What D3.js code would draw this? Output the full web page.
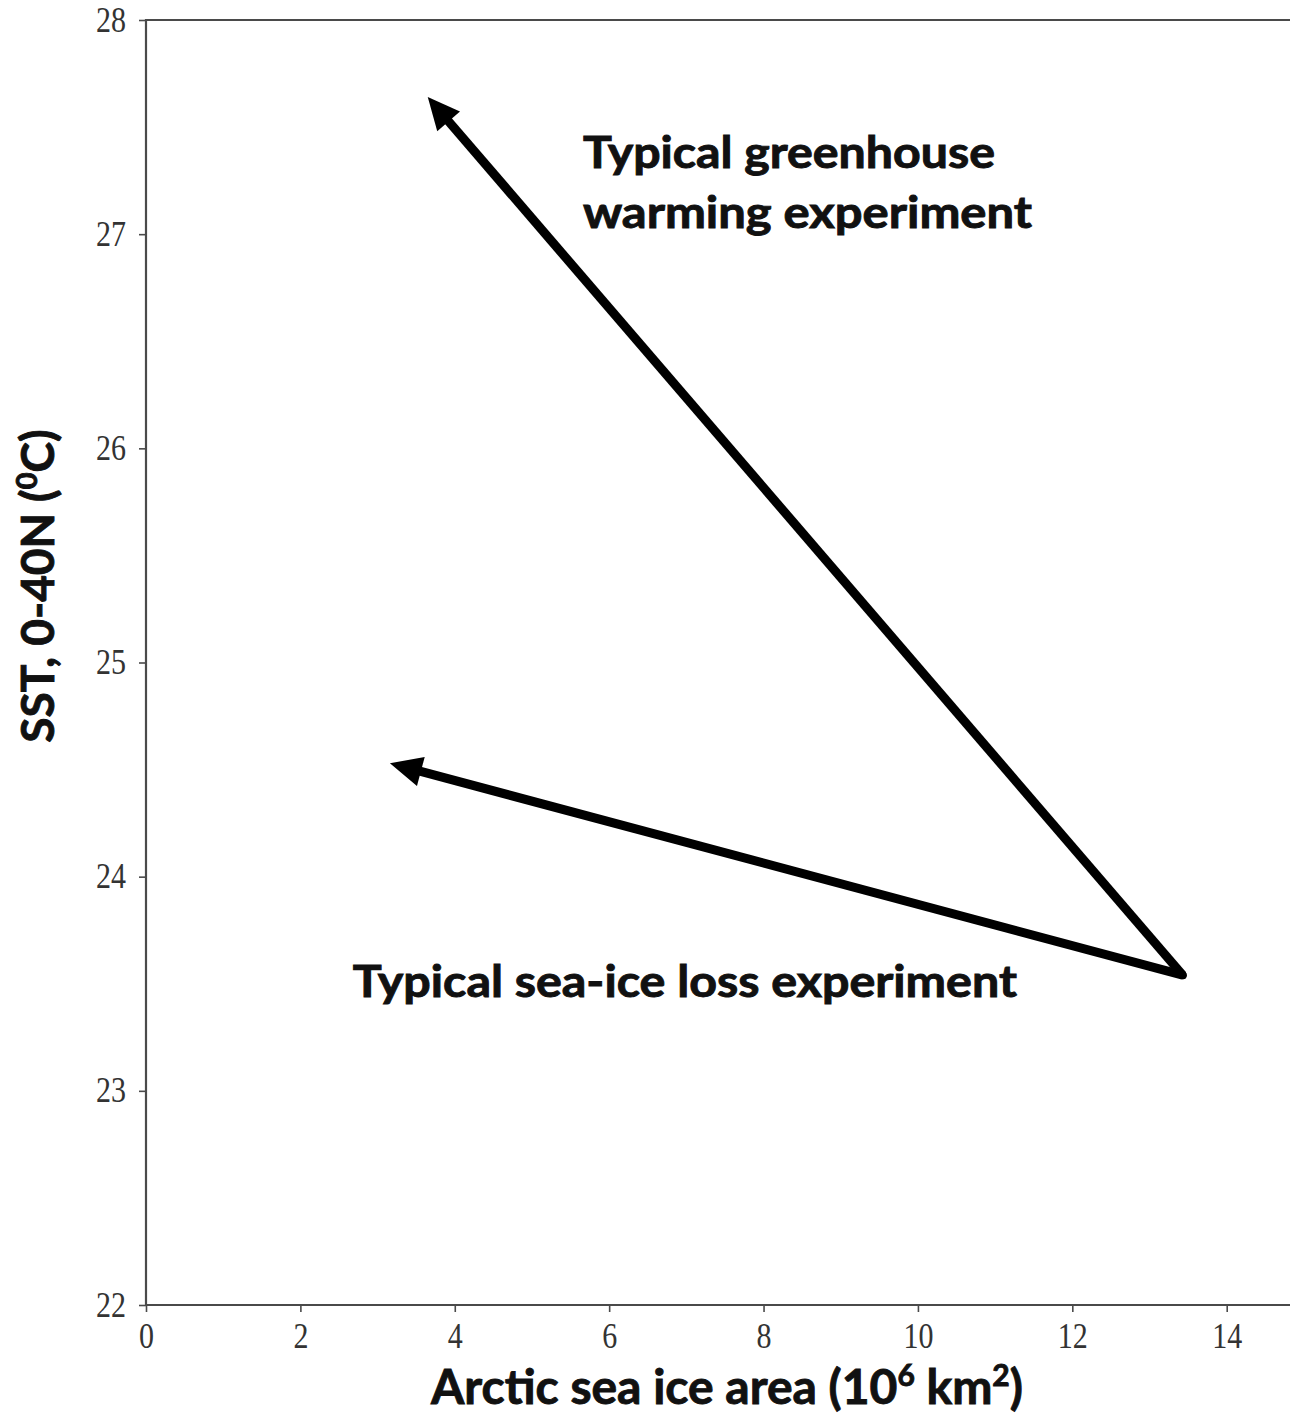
<!DOCTYPE html>
<html>
<head>
<meta charset="utf-8">
<script src="https://cdn.jsdelivr.net/npm/d3@7"></script>
<style>
  html, body { margin: 0; padding: 0; background: #fff; }
  svg { display: block; }
</style>
</head>
<body>
<svg id="chart" width="1290" height="1416"></svg>
<script>
// ---- data ----
const xTicks = [0, 2, 4, 6, 8, 10, 12, 14];
const yTicks = [22, 23, 24, 25, 26, 27, 28];
const xDomain = [0, 14.82];
const yDomain = [22, 28];
const arrowNames = ["greenhouse", "seaice"];
const arrowStartX = [13.43, 13.43];
const arrowStartY = [23.54, 23.54];
const arrowEndX = [3.65, 3.16];
const arrowEndY = [27.64, 24.53];
const labelLines = ["Typical greenhouse", "warming experiment", "Typical sea-ice loss experiment"];
const labelX = [5.66, 5.66, 2.68];
const labelY = [27.31, 27.03, 23.44];
const xTitle = "Arctic sea ice area (10";
const yTitle = "SST, 0-40N (";

const svg = d3.select("#chart");
const x = d3.scaleLinear().domain(xDomain).range([146, 1290]);
const y = d3.scaleLinear().domain(yDomain).range([1305, 20]);

const axisColor = "#4a4a4a";
const tickFont = "'Liberation Serif', 'DejaVu Serif', serif";
const sansBold = "Lato, 'Open Sans', 'Noto Sans', sans-serif";
const stretch = 1.22;

// axes
const gx = svg.append("g").attr("transform", `translate(0,${y(22)})`)
  .call(d3.axisBottom(x).tickValues(xTicks).tickSize(7).tickFormat(d3.format("d")));
const gy = svg.append("g").attr("transform", `translate(${x(0)},0)`)
  .call(d3.axisLeft(y).tickValues(yTicks).tickSize(7).tickPadding(13).tickFormat(d3.format("d")));
[gx, gy].forEach(g => {
  g.select(".domain").remove();
  g.selectAll(".tick line").attr("stroke", axisColor).attr("stroke-width", 1.6);
  g.selectAll(".tick text").attr("fill", "#333").style("font-family", tickFont).style("font-size", "30px")
    .attr("transform", `scale(1,${stretch})`);
});
gx.selectAll(".tick text").attr("dy", null).attr("y", 43 / stretch);
gy.selectAll(".tick text").attr("dy", null).attr("y", 11 / stretch);

// spines
svg.append("line").attr("x1", x(0)).attr("x2", 1290).attr("y1", y(28)).attr("y2", y(28))
  .attr("stroke", axisColor).attr("stroke-width", 2.2);
svg.append("line").attr("x1", x(0)).attr("x2", 1290).attr("y1", y(22)).attr("y2", y(22))
  .attr("stroke", axisColor).attr("stroke-width", 2.2);
svg.append("line").attr("x1", x(0)).attr("x2", x(0)).attr("y1", y(28) - 1).attr("y2", y(22) + 1)
  .attr("stroke", axisColor).attr("stroke-width", 2.2);

// arrows
arrowNames.forEach((n, i) => {
  const x1 = x(arrowStartX[i]), y1 = y(arrowStartY[i]);
  const x2 = x(arrowEndX[i]), y2 = y(arrowEndY[i]);
  const len = Math.hypot(x2 - x1, y2 - y1);
  const ux = (x2 - x1) / len, uy = (y2 - y1) / len;
  const px = -uy, py = ux;
  const L = 32, W = 15;
  const bx = x2 - ux * L, by = y2 - uy * L;
  svg.append("line").attr("class", "arrow-" + n)
    .attr("x1", x1).attr("y1", y1)
    .attr("x2", bx + ux * 4).attr("y2", by + uy * 4)
    .attr("stroke", "#000").attr("stroke-width", 9).attr("stroke-linecap", "butt");
  svg.append("path")
    .attr("d", `M${x2},${y2} L${bx + px * W},${by + py * W} L${bx - px * W},${by - py * W} Z`)
    .attr("fill", "#000");
  svg.append("circle").attr("cx", x1).attr("cy", y1).attr("r", 4).attr("fill", "#000");
});

// annotation text
const textWidths = [412, 449, 664];
labelLines.forEach((t, i) => {
  svg.append("text").attr("x", x(labelX[i])).attr("y", y(labelY[i]))
    .style("font-family", sansBold).style("font-weight", "bold").style("font-size", "43px")
    .attr("fill", "#111").attr("stroke", "#111").attr("stroke-width", 0.9)
    .attr("textLength", textWidths[i]).attr("lengthAdjust", "spacingAndGlyphs")
    .text(t);
});

// axis titles
const xt = svg.append("text").attr("x", 727).attr("y", 1404).attr("text-anchor", "middle")
  .style("font-family", sansBold).style("font-weight", "bold").style("font-size", "48px")
  .attr("fill", "#111").attr("stroke", "#111").attr("stroke-width", 0.9);
xt.append("tspan").text(xTitle);
xt.append("tspan").attr("dy", -18).style("font-size", "30px").text("6");
xt.append("tspan").attr("dy", 18).text(" km");
xt.append("tspan").attr("dy", -18).style("font-size", "30px").text("2");
xt.append("tspan").attr("dy", 18).text(")");

const yt = svg.append("text").attr("transform", "translate(54,586) rotate(-90)").attr("text-anchor", "middle")
  .style("font-family", sansBold).style("font-weight", "bold").style("font-size", "46px")
  .attr("fill", "#111").attr("stroke", "#111").attr("stroke-width", 0.9);
yt.append("tspan").text(yTitle);
yt.append("tspan").attr("dy", -17).style("font-size", "29px").text("0");
yt.append("tspan").attr("dy", 17).text("C)");
</script>
</body>
</html>
